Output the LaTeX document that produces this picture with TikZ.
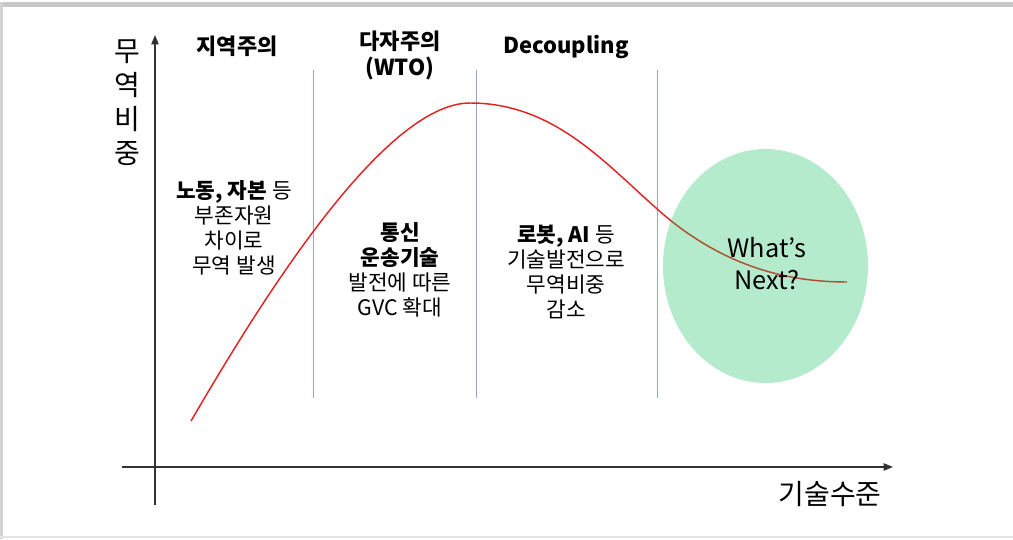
\documentclass[tikz,border=0pt]{standalone}
\usepackage{fontspec}
\setmainfont{Noto Sans CJK KR}
\usetikzlibrary{arrows.meta,shapes.geometric}
\definecolor{axisgray}{RGB}{50,50,50}
\definecolor{divblue}{RGB}{150,168,195}
\definecolor{curvered}{RGB}{225,35,35}
\definecolor{curvebrown}{RGB}{175,80,50}
\definecolor{blobgreen}{RGB}{180,235,204}
\definecolor{framegray}{RGB}{200,200,200}
\tikzset{
  axis/.style={draw=axisgray,line width=1pt},
  axisarrow/.style={axis,-{Triangle[length=7pt,width=5.5pt]}},
  divider/.style={draw=divblue,line width=0.75pt},
  body/.style={align=center,font=\fontsize{16}{18.75}\selectfont,inner sep=0pt},
  head/.style={align=center,font=\fontsize{16.5}{19.5}\selectfont\bfseries,inner sep=0pt},
}
\begin{document}
\begin{tikzpicture}[x=0.75pt,y=-0.75pt]
\useasboundingbox (0,0) rectangle (1013,539);
% screenshot frame
\fill[framegray] (0,2) rectangle (1013,7);
\fill[framegray!80] (0,2) rectangle (2.5,539);
\fill[framegray!50] (0,535.5) rectangle (1013,537.5);
% axes
\coordinate (ybot) at (155,505);
\coordinate (ytop) at (155,35);
\coordinate (xl) at (122,467);
\coordinate (xr) at (893,467);
\draw[axisarrow] (ybot) -- (ytop);
\draw[axisarrow] (xl) -- (xr);
% dividers
\foreach \x/\n in {313/d1,476/d2,657/d3}{
  \coordinate (\n t) at (\x,70);
  \coordinate (\n b) at (\x,398);
  \draw[divider] (\n t) -- (\n b);
}
% curve
\def\curvepath{(191,421) .. controls (250,320) and (380,103) .. (470,103)
  .. controls (560,103) and (612,172) .. (670,220)
  .. controls (730,268) and (790,282) .. (847,282)}
\draw[curvered,line width=1.1pt] \curvepath;
% ellipse
\node[ellipse,fill=blobgreen,inner sep=0pt,
  minimum width=153.75pt,minimum height=175.5pt] (blob) at (765.5,266) {};
\begin{scope}
\clip (765.5,266) ellipse [x radius=102.5,y radius=-117];
\draw[curvebrown,line width=1.1pt] \curvepath;
\end{scope}
\node[align=center,font=\fontsize{19}{24}\selectfont,inner sep=0pt] (next) at (767,264) {What’s\\Next?};
% axis labels
\node[align=center,font=\fontsize{21}{25.5}\selectfont,inner sep=0pt] (ylab) at (127,103) {무\\역\\비\\중};
\node[font=\fontsize{21}{25}\selectfont,inner sep=0pt] (xlab) at (830,494) {기술수준};
% headings
\node[head] (h1) at (237,46) {지역주의};
\node[head] (h2) at (400,55) {다자주의\\(WTO)};
\node[head] (h3) at (566,47) {Decoupling};
% body texts
\node[body] (b1) at (234,228) {\textbf{노동, 자본} 등\\부존자원\\차이로\\무역 발생};
\node[body] (b2) at (400,270) {\textbf{통신}\\\textbf{운송기술}\\발전에 따른\\GVC 확대};
\node[body] (b3) at (566,272) {\textbf{로봇, AI} 등\\기술발전으로\\무역비중\\감소};
\end{tikzpicture}
\end{document}
